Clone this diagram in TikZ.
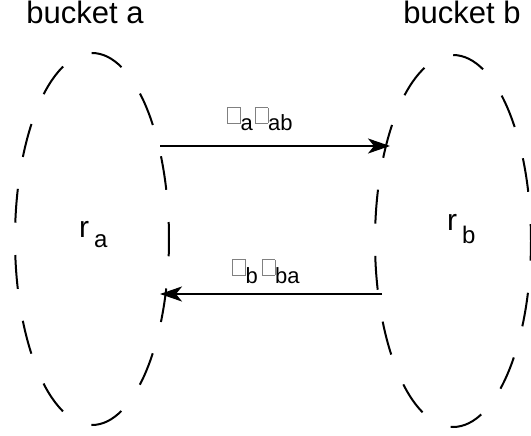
\documentclass[tikz,border=0pt]{standalone}
\usepackage{fontspec}
\setmainfont{Liberation Sans}
\usetikzlibrary{shapes.geometric,arrows.meta}
\newcommand{\missingglyph}{{\color{gray}\setlength{\fboxsep}{0pt}\setlength{\fboxrule}{0.7pt}\raisebox{8pt}{\fbox{\rule{0pt}{15pt}\hspace{12pt}}}}}
\tikzset{
  bucket/.style={draw, ellipse, dash pattern=on 34pt off 32.3pt, dash phase=17pt, line width=2pt, inner sep=0pt},
  flow/.style={line width=2.2pt, -{Stealth[length=22pt,width=15pt,inset=6pt]}},
  title/.style={font=\fontsize{31}{34}\selectfont, inner sep=0pt, anchor=base},
  rate/.style={font=\fontsize{22}{24}\selectfont, inner sep=0pt, anchor=base west},
  rvar/.style={font=\fontsize{30}{32}\selectfont, inner sep=0pt, anchor=base west},
  sub/.style={font=\fontsize{24}{26}\selectfont, inner sep=0pt, anchor=base west}
}
\begin{document}
\begin{tikzpicture}[x=1pt,y=-1pt]
\useasboundingbox (0,0) rectangle (531,436);
\node[bucket, minimum width=154pt, minimum height=372pt] (bucketA) at (92,239) {};
\node[bucket, minimum width=156pt, minimum height=372pt] (bucketB) at (453,241) {};
\node[title] (titleA) at (85,24) {bucket a};
\node[title] (titleB) at (462,24) {bucket b};
\node[rvar] (ra) at (79,237) {r};
\node[sub] (raSub) at (94,247) {a};
\node[rvar] (rb) at (447,230) {r};
\node[sub] (rbSub) at (462,243) {b};
\coordinate (abStart) at (160,146);
\coordinate (abEnd) at (390,146);
\coordinate (baStart) at (382,294);
\coordinate (baEnd) at (160,294);
\draw[flow] (abStart) -- (abEnd);
\draw[flow] (baStart) -- (baEnd);
\node[rate] (labAB) at (227,131) {\missingglyph a\hspace{2pt}\missingglyph ab};
\node[rate] (labBA) at (232,283) {\missingglyph b\hspace{4pt}\missingglyph ba};
\end{tikzpicture}
\end{document}
